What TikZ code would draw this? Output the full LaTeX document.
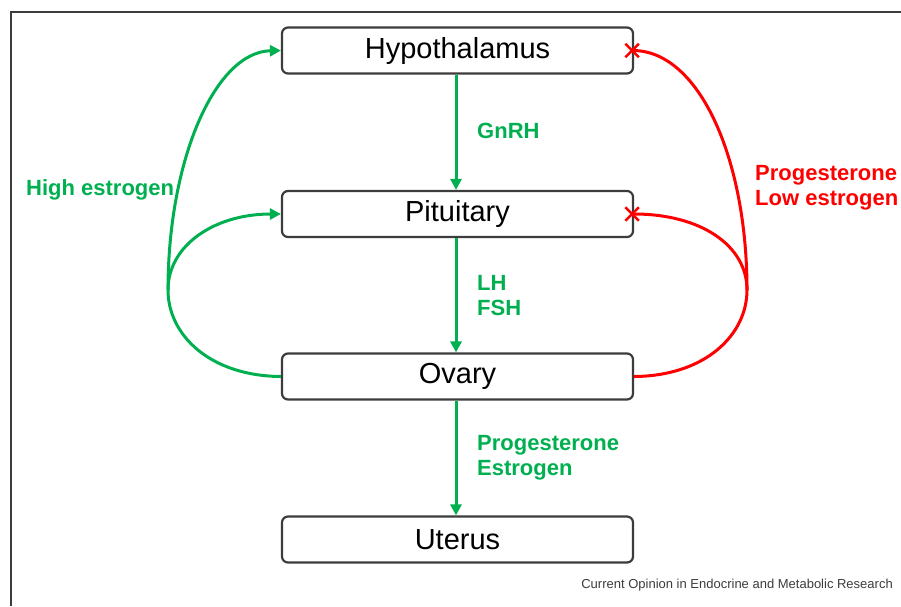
\documentclass[tikz,border=0pt]{standalone}
\usepackage{fontspec}
\setmainfont{Liberation Sans}
\usetikzlibrary{arrows.meta,shapes.misc}
\definecolor{hgreen}{RGB}{0,176,80}
\definecolor{hred}{RGB}{255,0,0}
\definecolor{boxgray}{RGB}{60,60,60}
\begin{document}
\begin{tikzpicture}[x=1pt,y=-1pt,
  organ/.style={draw=boxgray,line width=2.2pt,rounded corners=6pt,minimum width=351pt,minimum height=46pt,inner sep=0pt,font=\fontsize{29}{32}\selectfont},
  glabel/.style={text=hgreen,font=\fontsize{22}{25}\selectfont\bfseries,align=left,inner sep=0pt,anchor=west},
  rlabel/.style={text=hred,font=\fontsize{22}{25}\selectfont\bfseries,align=left,inner sep=0pt,anchor=west},
  garrow/.style={draw=hgreen,line width=3pt,-{Triangle[length=11pt,width=11pt]}},
  gline/.style={draw=hgreen,line width=3pt},
  rline/.style={draw=hred,line width=3pt},
  block/.style={draw=hred,cross out,line width=2.6pt,minimum size=11pt,inner sep=0pt}]
\useasboundingbox (0,0) rectangle (901,606);
\draw[boxgray,line width=1.3pt] (11,606) -- (11,12) -- (901,12);

\node[organ] (hyp) at (457.5,50.5) {Hypothalamus};
\node[organ] (pit) at (457.5,214) {Pituitary};
\node[organ] (ova) at (457.5,376.5) {Ovary};
\node[organ] (ute) at (457.5,539.5) {Uterus};

\draw[garrow] (hyp.south -| 456,0) -- (pit.north -| 456,0);
\draw[garrow] (pit.south -| 456,0) -- (ova.north -| 456,0);
\draw[garrow] (ova.south -| 456,0) -- (ute.north -| 456,0);

\node[glabel] (gnrh) at (477,131) {GnRH};
\node[glabel] (lhfsh) at (477,295.5) {LH\\FSH};
\node[glabel] (pe) at (477,458) {Progesterone\\Estrogen};
\node[glabel] (he) at (26,190) {High estrogen};
\node[rlabel] (ple) at (755,187.5) {Progesterone\\Low estrogen};

% left green feedback
\coordinate (ls) at (168,290);
\draw[gline] (ova.west) .. controls (210,376) and (168,335) .. (ls);
\draw[garrow] (ls) .. controls (168,160) and (215,52) .. (hyp.west);
\draw[garrow] (ls) .. controls (168,245) and (215,214) .. (pit.west);

% right red feedback
\coordinate (rs) at (747,290);
\draw[rline] (ova.east) .. controls (705,376) and (747,335) .. (rs);
\draw[rline] (rs) .. controls (747,160) and (700,52) .. (hyp.east);
\draw[rline] (rs) .. controls (747,245) and (700,214) .. (pit.east);
\node[block] (xh) at ([xshift=-2pt]hyp.east) {};
\node[block] (xp) at ([xshift=-2pt]pit.east) {};

\node[anchor=east,inner sep=0pt,text=boxgray,font=\fontsize{13}{15}\selectfont] (src) at (893,585) {Current Opinion in Endocrine and Metabolic Research};
\end{tikzpicture}
\end{document}
